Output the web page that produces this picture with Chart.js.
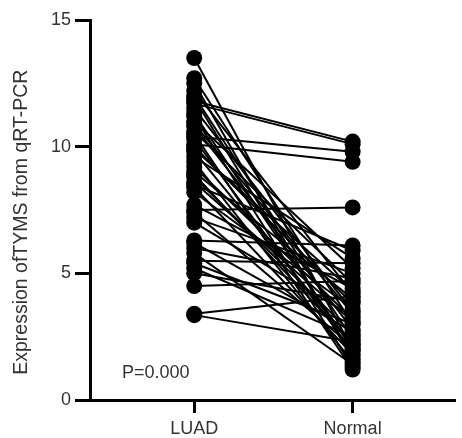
<!DOCTYPE html>
<html>
<head>
<meta charset="utf-8">
<script src="https://cdn.jsdelivr.net/npm/chart.js@4.4.0/dist/chart.umd.min.js"></script>
<style>
  html, body { margin: 0; padding: 0; background: #fff; }
  canvas { display: block; }
</style>
</head>
<body>
<canvas id="paired-chart" width="462" height="438"></canvas>
<script>
const groups = ['LUAD', 'Normal'];
const yTicks = [0, 5, 10, 15];
const yTitle = 'Expression ofTYMS from qRT-PCR';
const pValue = 'P=0.000';

// paired samples, same index = same patient
const luad = [13.5, 12.7, 12.5, 12.2, 12.0, 11.9, 11.8, 11.7, 11.5, 11.3, 11.2, 11.0,
    10.9, 10.8, 10.6, 10.5, 10.4, 10.3, 10.1, 10.0, 9.9, 9.8, 9.6, 9.4, 9.2,
    9.0, 8.9, 8.8, 8.6, 8.5, 8.4, 8.2, 7.7, 7.5, 7.4, 7.2, 7.0,
    6.3, 6.2, 6.0, 5.8, 5.5, 5.4, 5.2, 5.0, 4.5, 3.4, 3.35];
const normal = [2.0, 3.0, 1.6, 4.2, 2.4, 1.7, 10.2, 10.1, 3.5, 2.0, 1.3, 5.2,
    3.4, 2.8, 4.6, 1.2, 9.8, 1.9, 9.4, 3.8, 4.3, 2.2, 5.6, 1.5, 3.2,
    4.0, 2.2, 2.6, 3.1, 5.9, 1.8, 3.6, 4.4, 7.6, 2.1, 5.0, 3.3,
    6.1, 2.7, 4.8, 1.4, 5.4, 3.0, 2.5, 3.9, 4.7, 4.1, 2.3];

const font = '"Liberation Sans", Arial, sans-serif';
const ctx = document.querySelector('#paired-chart');

let datasets = [];
for (let i = 0; i < luad.length; i++) {
    datasets.push({
        data: [{x: 1, y: luad[i]}, {x: 2, y: normal[i]}],
        borderColor: '#000',
        backgroundColor: '#000',
        borderWidth: 2,
        pointRadius: 8,
        pointBorderWidth: 0,
        showLine: true,
    });
}

// y title + p value drawn by hand, Chart.js keeps the title centred on the axis
const extraText = {
    id: 'extraText',
    afterDraw(chart) {
        const c = chart.ctx,
            y = chart.scales.y;
        c.save();
        c.fillStyle = '#333';
        c.font = '18px ' + font;
        c.textAlign = 'left';
        c.textBaseline = 'middle';
        c.fillText(pValue, 122, y.getPixelForValue(1.07));

        c.font = '19.5px ' + font;
        c.textAlign = 'center';
        c.translate(22, y.getPixelForValue(7.02));
        c.rotate(-Math.PI / 2);
        c.fillText(yTitle, 0, 0);
        c.restore();
    }
};

new Chart(ctx, {
    type: 'scatter',
    data: { datasets: datasets },
    options: {
        responsive: false,
        animation: false,
        events: [],
        layout: { padding: { top: 20, right: 0, bottom: 0, left: 0 } },
        scales: {
            x: {
                type: 'linear',
                min: 0.342,
                max: 2.64,
                afterBuildTicks: scale => { scale.ticks = groups.map((g, i) => ({ value: i + 1 })); },
                afterFit: scale => { scale.height = 38; },
                border: { display: true, color: '#000', width: 3 },
                grid: { display: true, drawOnChartArea: false, drawTicks: true, tickLength: 13, lineWidth: 3, color: '#000' },
                ticks: {
                    color: '#333',
                    padding: 5,
                    font: { size: 18, family: font },
                    callback: v => groups[v - 1],
                },
            },
            y: {
                min: 0,
                max: 15,
                afterBuildTicks: scale => { scale.ticks = yTicks.map(v => ({ value: v })); },
                afterFit: scale => { scale.width = 90; },
                border: { display: true, color: '#000', width: 3 },
                grid: { display: true, drawOnChartArea: false, drawTicks: true, tickLength: 15, lineWidth: 3, color: '#000' },
                ticks: {
                    color: '#333',
                    padding: 4,
                    font: { size: 18, family: font },
                },
            },
        },
        plugins: {
            legend: { display: false },
            tooltip: { enabled: false },
        },
    },
    plugins: [extraText],
});
</script>
</body>
</html>
